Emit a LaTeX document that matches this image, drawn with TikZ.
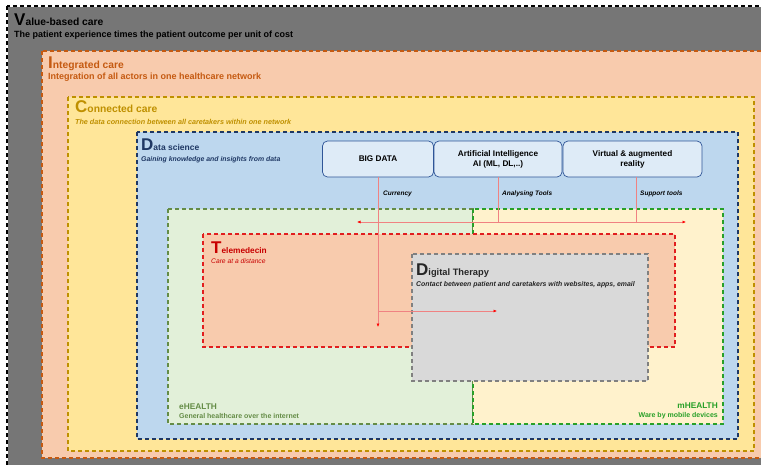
\documentclass[tikz,border=0pt]{standalone}
\usepackage{fontspec}
\setmainfont{Liberation Sans}
\usetikzlibrary{arrows.meta,positioning}

\definecolor{vbfill}{RGB}{118,118,118}
\definecolor{icfill}{RGB}{248,203,173}
\definecolor{icline}{RGB}{197,90,17}
\definecolor{ccfill}{RGB}{255,230,153}
\definecolor{ccline}{RGB}{191,144,0}
\definecolor{dsfill}{RGB}{189,215,238}
\definecolor{dsline}{RGB}{31,56,100}
\definecolor{ehfill}{RGB}{226,240,217}
\definecolor{ehline}{RGB}{100,140,70}
\definecolor{mhfill}{RGB}{255,242,204}
\definecolor{mhline}{RGB}{40,160,40}
\definecolor{tmfill}{RGB}{248,203,173}
\definecolor{tmline}{RGB}{225,30,30}
\definecolor{tmtext}{RGB}{200,0,0}
\definecolor{dtfill}{RGB}{217,217,217}
\definecolor{dtline}{RGB}{128,128,128}
\definecolor{toolfill}{RGB}{222,235,247}
\definecolor{toolline}{RGB}{47,85,151}
\definecolor{linkred}{RGB}{240,130,130}

\newcommand{\capword}[2]{{\fontsize{17}{17}\selectfont #1}#2}

\tikzset{
  zone/.style={dashed, dash pattern=on 4pt off 3pt, line width=1.3pt},
  ttl/.style={anchor=base west, inner sep=0pt, font=\bfseries\fontsize{10.3}{11}\selectfont},
  sub/.style={anchor=base west, inner sep=0pt, font=\bfseries\fontsize{7}{8}\selectfont},
  tool/.style={draw=toolline, fill=toolfill, rounded corners=5pt, line width=0.7pt,
    minimum height=36pt, inner sep=1pt, align=center, font=\bfseries\fontsize{8.2}{10}\selectfont},
  link/.style={draw=linkred, line width=0.6pt},
  tip/.style={-{Latex[length=3.5pt,width=3pt,color=red]}},
  lbl/.style={anchor=base west, inner sep=0pt, font=\bfseries\itshape\fontsize{6.5}{7}\selectfont}
}

\begin{document}
\begin{tikzpicture}[x=1pt,y=-1pt]
\useasboundingbox (0,0) rectangle (761,464);
\clip (0,0) rectangle (761,464);

% zones, outside in
\draw[line width=1.3pt, white, fill=vbfill] (7,6) rectangle (775,475);
\draw[zone, black] (7,6) rectangle (775,475);
\draw[zone, fill=icfill, draw=icline] (42,51) rectangle (775,458);
\draw[zone, fill=ccfill, draw=ccline] (68,97) rectangle (754,451);
\draw[zone, fill=dsfill, draw=dsline] (137,132) rectangle (738,439);
\draw[zone, fill=ehfill, draw=ehline] (168,209) rectangle (473,424);
\draw[zone, fill=mhfill, draw=mhline] (473,209) rectangle (723,424);
\draw[zone, fill=tmfill, draw=tmline] (203,234) rectangle (675,347);
\draw[zone, fill=dtfill, draw=dtline, line width=1.1pt] (412,254) rectangle (648,381);

% zone titles
\node[ttl] (vbt) at (14,25) {\capword{V}{alue-based care}};
\node[sub, font=\bfseries\fontsize{9}{9}\selectfont] (vbs) at (14,37)
  {The patient experience times the patient outcome per unit of cost};
\node[ttl, text=icline] (ict) at (48,68) {\capword{I}{ntegrated care}};
\node[sub, text=icline, font=\bfseries\fontsize{9}{9}\selectfont] (ics) at (48,79)
  {Integration of all actors in one healthcare network};
\node[ttl, text=ccline] (cct) at (75,112) {\capword{C}{onnected care}};
\node[sub, text=ccline, font=\bfseries\itshape\fontsize{7.2}{8}\selectfont] (ccs) at (75,124)
  {The data connection between all caretakers within one network};
\node[ttl, text=dsline, font=\bfseries\fontsize{8.5}{9}\selectfont] (dst) at (141,150) {\capword{D}{ata science}};
\node[sub, text=dsline, font=\bfseries\itshape\fontsize{6.9}{8}\selectfont] (dss) at (141,161)
  {Gaining knowledge and insights from data};
\node[ttl, text=tmtext, font=\bfseries\fontsize{8.3}{9}\selectfont] (tmt) at (211,253) {\capword{T}{elemedecin}};
\node[sub, text=tmtext, font=\itshape\fontsize{6.7}{7}\selectfont] (tms) at (211,263)
  {Care at a distance};
\node[ttl, text=black!85, font=\bfseries\fontsize{9.3}{10}\selectfont] (dtt) at (416,275) {\capword{D}{igital Therapy}};
\node[sub, text=black!85, font=\bfseries\itshape\fontsize{6.9}{8}\selectfont] (dts) at (416,286)
  {Contact between patient and caretakers with websites, apps, email};
\node[ttl, text=ehline, font=\bfseries\fontsize{8.3}{9}\selectfont] (eht) at (179,409) {eHEALTH};
\node[sub, text=ehline] (ehs) at (179,418)
  {General healthcare over the internet};
\node[ttl, anchor=base east, text=mhline, font=\bfseries\fontsize{8.3}{9}\selectfont] (mht) at (718,408) {mHEALTH};
\node[sub, anchor=base east, text=mhline] (mhs) at (718,417)
  {Ware by mobile devices};

% tools
\node[tool, minimum width=111pt] (bd) at (378,159) {BIG DATA};
\node[tool, minimum width=128pt] (ai) at (498,159) {Artificial Intelligence\\AI (ML, DL,..)};
\node[tool, minimum width=139pt] (vr) at (632.5,159) {Virtual \& augmented\\reality};

% connectors
\coordinate (bdend) at (378,327);
\coordinate (bdfork) at (378,311);
\coordinate (dtend) at (497,311);
\coordinate (eleft) at (357,222);
\coordinate (eright) at (686,222);
\coordinate (vrdrop) at (636,177);

\draw[link, tip] (bd.south) -- (bdend);
\draw[link, tip] (bdfork) -- (dtend);
\draw[link, tip] (ai.south) -- (ai.south|-eleft) -- (eleft);
\draw[link, tip] (ai.south|-eleft) -- (eright);
\draw[link] (vrdrop) -- (vrdrop|-eright);

\node[lbl] (cur) at (383,195) {Currency};
\node[lbl] (ana) at (502,195) {Analysing Tools};
\node[lbl] (sup) at (640,195) {Support tools};
\end{tikzpicture}
\end{document}
